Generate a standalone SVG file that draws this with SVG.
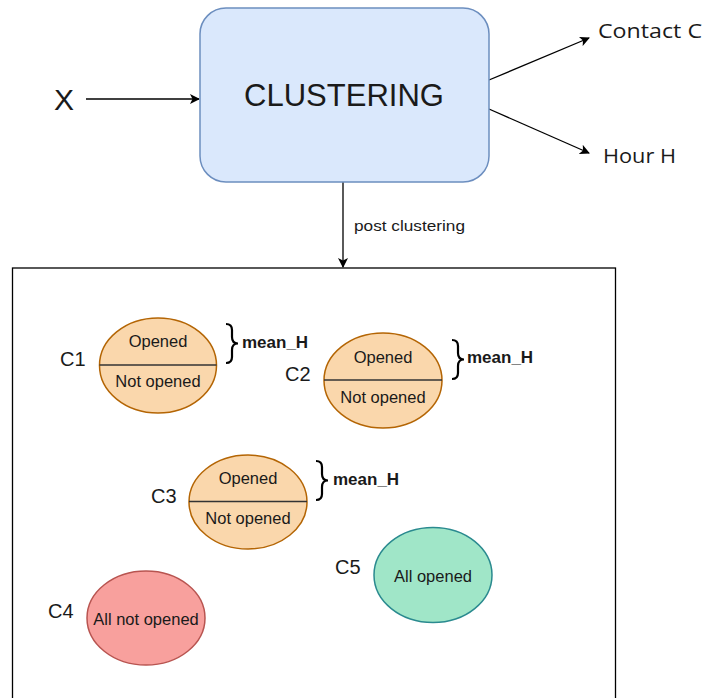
<svg xmlns="http://www.w3.org/2000/svg" width="704" height="698" viewBox="0 0 704 698">
<style>
.t{font-family:"Liberation Sans",Arial,sans-serif;fill:#1a1a1a}
.c{font-family:"Open Sans","Noto Sans",sans-serif;fill:#1a1a1a;font-size:20px}
.lbl{font-size:20px}
.in{font-size:16.5px;text-anchor:middle}
.mh{font-size:17px;font-weight:bold}
.ell{fill:#fad7ac;stroke:#b46504;stroke-width:1.5}
.div{stroke:#333;stroke-width:1.5}
.br{fill:none;stroke:#000;stroke-width:2.2}
.ln{stroke:#000;stroke-width:1.3;fill:none}
</style>
<defs>
<marker id="ah" viewBox="0 0 10 10" refX="9" refY="5" markerWidth="10" markerHeight="10" markerUnits="userSpaceOnUse" orient="auto">
<path d="M0,0 L10,5 L0,10 L2.5,5 Z" fill="#000"/>
</marker>
</defs>
<g id="connectors">
<line class="ln" x1="86" y1="99" x2="199" y2="99" marker-end="url(#ah)"/>
<line class="ln" x1="489" y1="80" x2="589" y2="38" marker-end="url(#ah)"/>
<line class="ln" x1="489" y1="109" x2="589" y2="153" marker-end="url(#ah)"/>
<line class="ln" x1="343" y1="182" x2="343" y2="267" marker-end="url(#ah)"/>
<text class="t" x="354" y="231" font-size="15" textLength="111" lengthAdjust="spacingAndGlyphs">post clustering</text>
</g>
<g id="input-x"><text class="t" x="54" y="110" font-size="30">X</text></g>
<g id="clustering">
<rect x="200" y="8" width="289" height="174" rx="26" fill="#dae8fc" stroke="#6c8ebf" stroke-width="1.5"/>
<text class="t" x="344" y="106" font-size="31" text-anchor="middle">CLUSTERING</text>
</g>
<g id="contact-c"><text class="c" x="598" y="38" textLength="104" lengthAdjust="spacingAndGlyphs">Contact C</text></g>
<g id="hour-h"><text class="c" x="603" y="163" textLength="73" lengthAdjust="spacingAndGlyphs">Hour H</text></g>
<g id="container"><rect x="12.5" y="268" width="603" height="440" fill="none" stroke="#000" stroke-width="1.3"/></g>
<g id="c1">
<text class="t lbl" x="60" y="366">C1</text>
<ellipse class="ell" cx="158" cy="365.5" rx="58.5" ry="47.5"/>
<line class="div" x1="99.5" y1="365" x2="216.5" y2="365"/>
<text class="t in" x="158" y="347">Opened</text>
<text class="t in" x="158" y="387">Not opened</text>
<path class="br" d="M226,324 Q232,324 232,330 L232,337 Q232,343.5 238,343.5 Q232,343.5 232,350 L232,357 Q232,363 226,363"/>
<text class="t mh" x="242" y="348">mean_H</text>
</g>
<g id="c2">
<text class="t lbl" x="285" y="381">C2</text>
<ellipse class="ell" cx="383" cy="380.5" rx="59" ry="47.5"/>
<line class="div" x1="324" y1="380" x2="442" y2="380"/>
<text class="t in" x="383" y="363">Opened</text>
<text class="t in" x="383" y="403">Not opened</text>
<path class="br" d="M452,340 Q458,340 458,346 L458,353 Q458,359.5 464,359.5 Q458,359.5 458,366 L458,373 Q458,379 452,379"/>
<text class="t mh" x="467" y="363">mean_H</text>
</g>
<g id="c3">
<text class="t lbl" x="151" y="503">C3</text>
<ellipse class="ell" cx="248" cy="502" rx="59" ry="47"/>
<line class="div" x1="189" y1="501.5" x2="307" y2="501.5"/>
<text class="t in" x="248" y="484">Opened</text>
<text class="t in" x="248" y="524">Not opened</text>
<path class="br" d="M316,461 Q322,461 322,467 L322,474 Q322,480.5 328,480.5 Q322,480.5 322,487 L322,494 Q322,500 316,500"/>
<text class="t mh" x="333" y="485">mean_H</text>
</g>
<g id="c4">
<text class="t lbl" x="48" y="618">C4</text>
<ellipse cx="146" cy="618" rx="59" ry="47" fill="#f8a09d" stroke="#b85450" stroke-width="1.5"/>
<text class="t in" x="146" y="625">All not opened</text>
</g>
<g id="c5">
<text class="t lbl" x="335" y="574">C5</text>
<ellipse cx="433" cy="575" rx="59" ry="47.5" fill="#a0e6c8" stroke="#2a8a8f" stroke-width="1.5"/>
<text class="t in" x="433" y="582">All opened</text>
</g>
</svg>
